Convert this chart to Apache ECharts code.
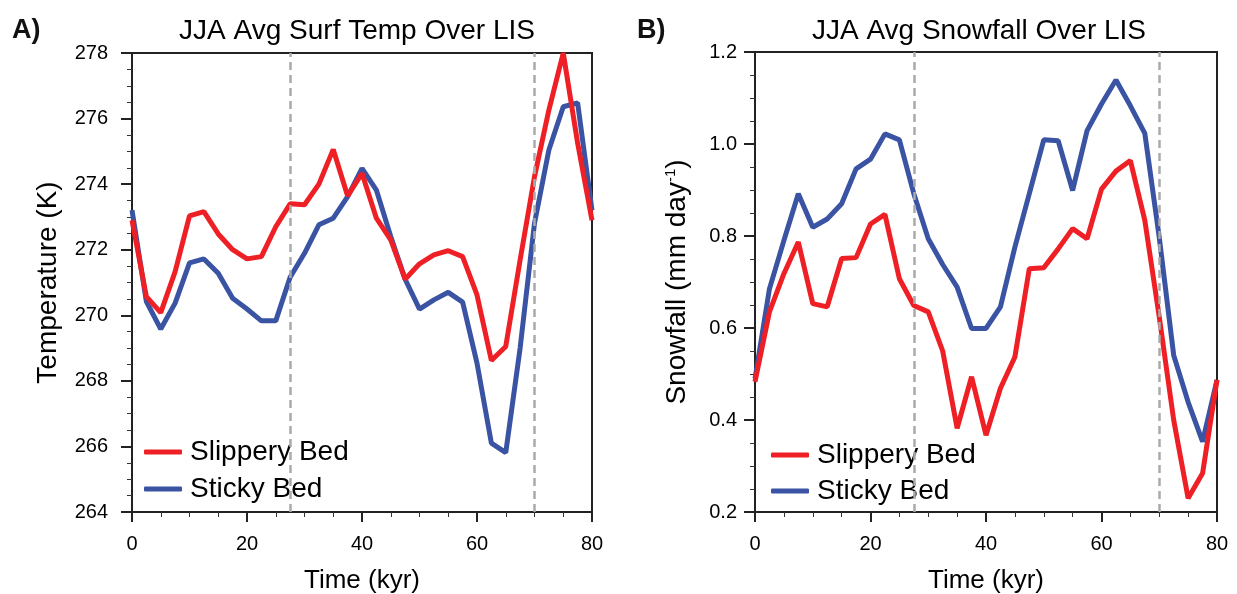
<!DOCTYPE html>
<html>
<head>
<meta charset="utf-8">
<script src="https://cdn.jsdelivr.net/npm/echarts@6/dist/echarts.min.js"></script>
<style>
html,body{margin:0;padding:0;background:#fff;}
#chart{width:1237px;height:594px;}
</style>
</head>
<body>
<div id="chart"></div>
<script>
const times = [0,2.5,5,7.5,10,12.5,15,17.5,20,22.5,25,27.5,30,32.5,35,37.5,40,42.5,45,47.5,50,52.5,55,57.5,60,62.5,65,67.5,70,72.5,75,77.5,80];
const tempSlippery = [272.9,270.57,270.08,271.33,273.03,273.16,272.48,272.0,271.72,271.79,272.7,273.4,273.37,274.0,275.06,273.64,274.33,272.96,272.3,271.1,271.57,271.84,271.97,271.79,270.62,268.62,269.05,271.69,274.23,276.26,278.0,275.25,272.9];
const tempSticky = [273.21,270.42,269.58,270.37,271.6,271.72,271.28,270.52,270.19,269.83,269.83,271.16,271.89,272.76,272.96,273.62,274.48,273.82,272.4,271.1,270.19,270.47,270.7,270.4,268.54,266.1,265.81,269.0,272.81,275.04,276.36,276.48,273.2];
const snowSlippery = [0.483,0.635,0.718,0.787,0.653,0.646,0.751,0.753,0.826,0.847,0.707,0.649,0.635,0.55,0.382,0.494,0.367,0.469,0.537,0.729,0.731,0.772,0.816,0.794,0.902,0.941,0.964,0.834,0.624,0.40,0.23,0.284,0.487];
const snowSticky = [0.49,0.685,0.79,0.892,0.819,0.837,0.870,0.946,0.967,1.022,1.009,0.892,0.794,0.738,0.689,0.599,0.599,0.646,0.776,0.892,1.009,1.007,0.899,1.029,1.087,1.139,1.083,1.023,0.797,0.541,0.439,0.353,0.487];
const markerTimes = [27.6, 70];
const seriesNames = ['Slippery Bed', 'Sticky Bed'];
const panelTitles = ['JJA Avg Surf Temp Over LIS', 'JJA Avg Snowfall Over LIS'];
const panelLetters = ['A)', 'B)'];

const RED = '#EE2025';
const BLUE = '#3A53A3';
const AX = '#222';
const FONT = 'Liberation Sans, Arial, Helvetica, sans-serif';

function pairs(vals){ return times.map((t,i)=>[t, vals[i]]); }

function xAxis(gridIndex){
  return {
    type:'value', gridIndex, min:0, max:80, interval:20,
    name:'Time (kyr)', nameLocation:'middle', nameGap:56,
    nameTextStyle:{fontSize:26, color:'#000', fontFamily:FONT},
    axisLine:{show:true, onZero:false, lineStyle:{color:AX, width:2}},
    axisTick:{show:true, inside:false, length:10, lineStyle:{color:AX, width:2}},
    minorTick:{show:true, splitNumber:4, length:5, lineStyle:{color:'#333', width:1}},
    axisLabel:{fontSize:20, color:'#000', margin:22, fontFamily:FONT},
    splitLine:{show:false}
  };
}

const option = {
  animation:false,
  backgroundColor:'#fff',
  title:[
    {text:panelLetters[0], left:7, top:12, textStyle:{fontSize:27, fontWeight:'bold', color:'#111', fontFamily:FONT}},
    {text:panelTitles[0], left:352, top:12, textAlign:'center', textStyle:{fontSize:28, fontWeight:'normal', color:'#000', fontFamily:FONT}},
    {text:panelLetters[1], left:632, top:12, textStyle:{fontSize:27, fontWeight:'bold', color:'#111', fontFamily:FONT}},
    {text:panelTitles[1], left:974, top:12, textAlign:'center', textStyle:{fontSize:28, fontWeight:'normal', color:'#000', fontFamily:FONT}}
  ],
  grid:[
    {left:132, top:53, width:460, height:459, show:true, borderColor:AX, borderWidth:2, backgroundColor:'transparent', outerBoundsMode:'none', containLabel:false},
    {left:755, top:52, width:462, height:460, show:true, borderColor:AX, borderWidth:2, backgroundColor:'transparent', outerBoundsMode:'none', containLabel:false}
  ],
  legend:[
    {orient:'vertical', left:139, top:433, itemWidth:38, itemHeight:5, itemGap:9, icon:'roundRect',
     data:seriesNames, selectedMode:false,
     textStyle:{fontSize:28, color:'#000', fontFamily:FONT, padding:[0,0,0,3]}},
    {orient:'vertical', left:766, top:436, itemWidth:38, itemHeight:5, itemGap:8, icon:'roundRect',
     data:seriesNames, selectedMode:false,
     textStyle:{fontSize:28, color:'#000', fontFamily:FONT, padding:[0,0,0,3]}}
  ],
  xAxis:[xAxis(0), xAxis(1)],
  yAxis:[
    {type:'value', gridIndex:0, min:264, max:278, interval:2,
     name:'Temperature (K)', nameLocation:'middle', nameGap:70, nameRotate:90,
     nameTextStyle:{fontSize:28, color:'#000', fontFamily:FONT},
     axisLine:{show:true, onZero:false, lineStyle:{color:AX, width:2}},
     axisTick:{show:true, inside:false, length:11, lineStyle:{color:AX, width:2}},
     minorTick:{show:true, splitNumber:4, length:5, lineStyle:{color:'#333', width:1}},
     axisLabel:{fontSize:20, color:'#000', margin:24, fontFamily:FONT},
     splitLine:{show:false}},
    {type:'value', gridIndex:1, min:0.2, max:1.2, interval:0.2,
     name:'Snowfall (mm day{sup|-1})', nameLocation:'middle', nameGap:64, nameRotate:90,
     nameTextStyle:{fontSize:28, color:'#000', fontFamily:FONT,
       rich:{sup:{fontSize:15, verticalAlign:'top', color:'#000', fontFamily:FONT, padding:[0,0,10,0]}}},
     axisLine:{show:true, onZero:false, lineStyle:{color:AX, width:2}},
     axisTick:{show:true, inside:false, length:11, lineStyle:{color:AX, width:2}},
     minorTick:{show:true, splitNumber:4, length:5, lineStyle:{color:'#333', width:1}},
     axisLabel:{fontSize:20, color:'#000', margin:18, fontFamily:FONT,
       formatter:v=>v.toFixed(1)},
     splitLine:{show:false}}
  ],
  series:[
    {type:'line', xAxisIndex:0, yAxisIndex:0, data:[], z:1, silent:true,
     markLine:{symbol:'none', silent:true, label:{show:false},
       lineStyle:{color:'#aaa', type:[8,5], width:2.5},
       data:markerTimes.map(t=>({xAxis:t}))}},
    {type:'line', xAxisIndex:1, yAxisIndex:1, data:[], z:1, silent:true,
     markLine:{symbol:'none', silent:true, label:{show:false},
       lineStyle:{color:'#aaa', type:[8,5], width:2.5},
       data:markerTimes.map(t=>({xAxis:t}))}},
    {name:seriesNames[1], type:'line', xAxisIndex:0, yAxisIndex:0, data:pairs(tempSticky), showSymbol:false, z:3,
     lineStyle:{color:BLUE, width:5}, itemStyle:{color:BLUE}},
    {name:seriesNames[0], type:'line', xAxisIndex:0, yAxisIndex:0, data:pairs(tempSlippery), showSymbol:false, z:4,
     lineStyle:{color:RED, width:5}, itemStyle:{color:RED}},
    {name:seriesNames[1], type:'line', xAxisIndex:1, yAxisIndex:1, data:pairs(snowSticky), showSymbol:false, z:3,
     lineStyle:{color:BLUE, width:5}, itemStyle:{color:BLUE}},
    {name:seriesNames[0], type:'line', xAxisIndex:1, yAxisIndex:1, data:pairs(snowSlippery), showSymbol:false, z:4,
     lineStyle:{color:RED, width:5}, itemStyle:{color:RED}}
  ]
};

const chart = echarts.init(document.getElementById('chart'), null, {renderer:'canvas'});
chart.setOption(option);
</script>
</body>
</html>
